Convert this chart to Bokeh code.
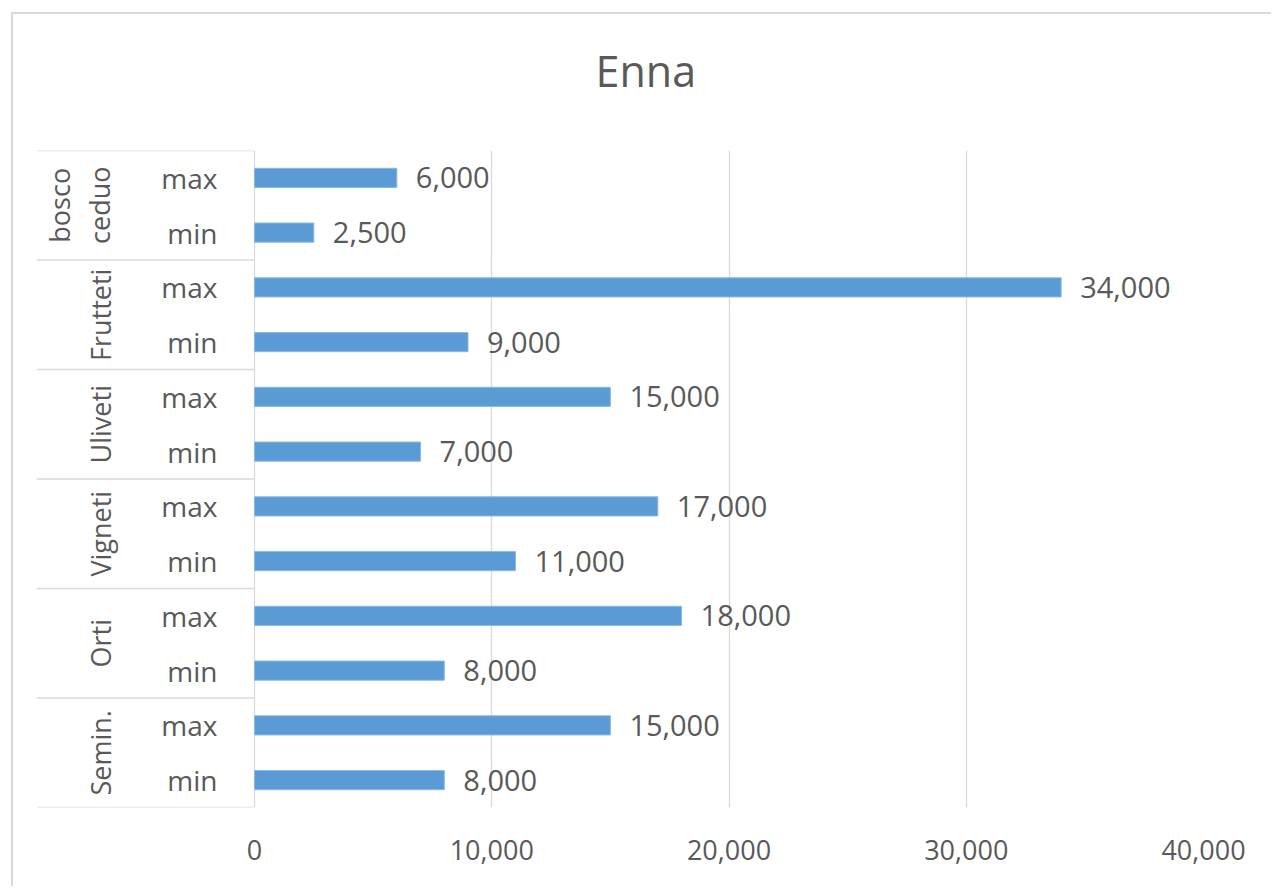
import math
from bokeh.plotting import figure
from bokeh.models import Range1d, FixedTicker, NumeralTickFormatter
from bokeh.core.properties import value
from bokeh.embed import file_html
from bokeh.resources import INLINE

# ---- data ----
groups = ["bosco\nceduo", "Frutteti", "Uliveti", "Vigneti", "Orti", "Semin."]
levels = ["max", "min"]
values_max = [6000, 34000, 15000, 17000, 18000, 15000]
values_min = [2500, 9000, 7000, 11000, 8000, 8000]
x_ticks = [0, 10000, 20000, 30000, 40000]
title = "Enna"

# ---- styling / layout ----
FONT = "Open Sans"
TXT = "#595959"
GRID = "#d9d9d9"
BAR = "#5B9BD5"
MT, ML = 12, 11               # outer chart border position (top, left)
BW = 2                        # border width
OX, OY = ML + BW, MT + BW     # figure content offset on screen
W, H = 1273 - OX, 888 - OY
FL, FR, FT, FB = 36 - OX, 1203 - OX, 150 - OY, 807 - OY   # frame edges (figure px)
X_MAX = 40000
zero_px = 218                             # px from frame left to value 0
upp = X_MAX / (FR - FL - zero_px)         # data units per pixel (x)

rows_val, rows_lvl = [], []
for mx, mn in zip(values_max, values_min):
    rows_val += [mx, mn]
    rows_lvl += levels
n = len(rows_val)
x_start = -zero_px * upp
ys = [n - i - 0.5 for i in range(n)]
group_y = [n - 2 * j - 1 for j in range(len(groups))]
sep_y = [2 * j for j in range(len(groups) + 1)]

p = figure(width=W, height=H, output_backend="svg", toolbar_location=None,
           x_range=Range1d(x_start, X_MAX), y_range=Range1d(0, n),
           y_axis_location=None,
           min_border_left=FL, min_border_right=W - FR,
           min_border_top=FT, min_border_bottom=H - FB)
p.outline_line_color = None
p.background_fill_color = "white"
p.border_fill_color = "white"
p.margin = (MT, 0, 0, ML)
p.styles = {"border-top": f"{BW}px solid {GRID}", "border-left": f"{BW}px solid {GRID}"}

# title: a trailing empty line lifts the text higher inside the top margin
p.title.text = title + "\n"
p.title.align = "left"
p.title.offset = 595 - 36
p.title.vertical_align = "bottom"
p.title.standoff = 30
p.title.text_line_height = 0.6
p.title.text_font = FONT
p.title.text_font_size = "43px"
p.title.text_font_style = "normal"
p.title.text_color = TXT

# grid
p.xgrid.ticker = FixedTicker(ticks=x_ticks)
p.xgrid.grid_line_color = GRID
p.xgrid.grid_line_width = 1.3
p.ygrid.visible = False

# x axis
p.xaxis.ticker = FixedTicker(ticks=x_ticks)
p.xaxis.formatter = NumeralTickFormatter(format="0,0")
p.xaxis.axis_line_color = None
p.xaxis.major_tick_line_color = None
p.xaxis.minor_tick_line_color = None
p.xaxis.major_label_text_font = FONT
p.xaxis.major_label_text_font_size = "27px"
p.xaxis.major_label_text_color = TXT
p.xaxis.major_label_standoff = 26

# separators in category area
p.segment(x0=[x_start] * len(sep_y), x1=[0] * len(sep_y), y0=sep_y, y1=sep_y,
          line_color=GRID, line_width=1.5)

# bars
p.hbar(y=ys, left=0, right=rows_val, height=0.35, fill_color=BAR,
       line_color="#8db8e3", line_width=1)

# data labels
p.text(x=rows_val, y=ys, text=[f"{v:,}" for v in rows_val], x_offset=19,
       text_baseline="middle", text_align="left", text_font=value(FONT),
       text_font_size="29px", text_color=TXT)

# level labels
p.text(x=[-37 * upp] * n, y=ys, text=rows_lvl, text_baseline="middle",
       text_align="right", text_font=value(FONT), text_font_size="28px",
       text_color=TXT)

# group labels
p.text(x=[-136 * upp] * len(groups), y=group_y, text=groups, angle=math.pi / 2,
       text_baseline="bottom", text_align="center", text_font=value(FONT),
       text_font_size="27px", text_color=TXT, text_line_height=1.1)

open("out.html", "w").write(file_html(p, INLINE))
